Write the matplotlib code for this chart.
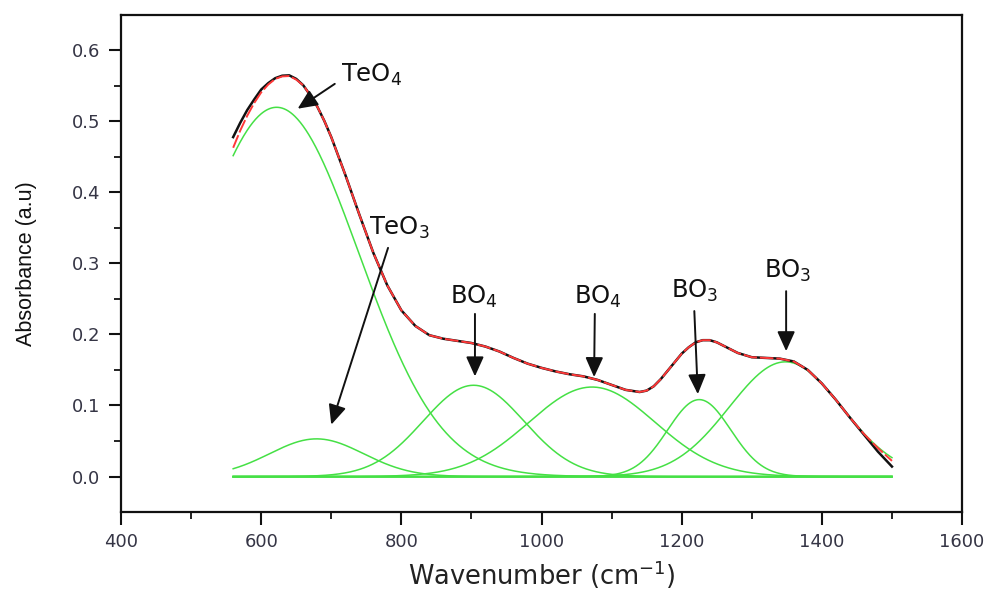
import numpy as np
import matplotlib
matplotlib.use("Agg")
import matplotlib.pyplot as plt
from matplotlib import font_manager as fm

# ---------------- data ----------------
wavenumber = [560, 570, 580, 590, 600, 610, 620, 630, 640, 650, 660, 670, 680, 690, 700,
              720, 740, 760, 780, 800, 820, 840, 860, 880, 900, 920, 940, 960, 980,
              1000, 1020, 1040, 1060, 1080, 1100, 1120, 1140,
              1150, 1160, 1170, 1180, 1190, 1200, 1210, 1220, 1230, 1240, 1250, 1260,
              1280, 1300, 1320, 1340, 1360, 1380, 1400, 1420, 1440, 1460, 1480, 1500]

absorbance_fit = [0.463, 0.487, 0.508, 0.526, 0.541, 0.552, 0.560, 0.5635, 0.564, 0.559,
                  0.551, 0.537, 0.521, 0.501, 0.478,
                  0.425, 0.369, 0.315, 0.269, 0.234, 0.212, 0.199, 0.194, 0.191, 0.188,
                  0.183, 0.176, 0.167, 0.159, 0.153, 0.148, 0.144, 0.141, 0.136, 0.129,
                  0.122, 0.119,
                  0.121, 0.127, 0.137, 0.149, 0.161, 0.173, 0.182, 0.189, 0.192, 0.192,
                  0.189, 0.184,
                  0.174, 0.168, 0.167, 0.166, 0.162, 0.150, 0.131, 0.108, 0.083, 0.060,
                  0.040, 0.022]

absorbance_measured = [0.478, 0.498, 0.516, 0.531, 0.545, 0.554, 0.561, 0.5645, 0.565, 0.560,
                       0.551, 0.537, 0.521, 0.501, 0.478,
                       0.425, 0.369, 0.315, 0.269, 0.234, 0.212, 0.199, 0.194, 0.191, 0.188,
                       0.183, 0.176, 0.167, 0.159, 0.153, 0.148, 0.144, 0.141, 0.136, 0.129,
                       0.122, 0.119,
                       0.121, 0.127, 0.137, 0.149, 0.161, 0.173, 0.182, 0.189, 0.192, 0.192,
                       0.189, 0.184,
                       0.174, 0.168, 0.167, 0.166, 0.162, 0.150, 0.131, 0.108, 0.083, 0.059,
                       0.035, 0.014]

# Gaussian components of the deconvolution (centre, height, sigma)
peak_labels = ["TeO$_4$", "TeO$_3$", "BO$_4$", "BO$_4$", "BO$_3$", "BO$_3$"]
peak_centers = [622, 679, 903, 1072, 1225, 1348]
peak_heights = [0.520, 0.053, 0.1285, 0.126, 0.1083, 0.1615]
peak_sigmas = [117, 67, 72, 90, 45, 80]

x_ticks = [400, 600, 800, 1000, 1200, 1400, 1600]
y_ticks = [0.0, 0.1, 0.2, 0.3, 0.4, 0.5, 0.6]

# ---------------- fonts ----------------
avail = {f.name for f in fm.fontManager.ttflist}
narrow = "Liberation Sans Narrow" if "Liberation Sans Narrow" in avail else "Liberation Sans"
plt.rcParams["font.family"] = ["DejaVu Sans"]
plt.rcParams["mathtext.fontset"] = "dejavusans"

# ---------------- figure ----------------
fig = plt.figure(figsize=(9.92, 5.90), dpi=100)
ax = fig.add_axes([0.122, 0.1322, 0.8478, 0.8424])

green = "#45e045"
x_fine = np.linspace(wavenumber[0], wavenumber[-1], 941)
for c, h, s in zip(peak_centers, peak_heights, peak_sigmas):
    ax.plot(x_fine, h * np.exp(-(x_fine - c) ** 2 / (2 * s ** 2)),
            color=green, lw=1.1, zorder=2)
ax.plot([wavenumber[0], wavenumber[-1]], [0, 0], color=green, lw=1.3, zorder=2)

ax.plot(wavenumber, absorbance_measured, color="#111111", lw=1.8, zorder=3,
        solid_joinstyle="round")
ax.plot(wavenumber, absorbance_fit, color="#ff3838", lw=1.4,
        ls=(0, (7, 1.5)), zorder=4)

# annotations: text centre, arrow tail, arrow tip (layout positions)
text_pos = [(757, 0.565), (797, 0.350), (903, 0.253), (1080, 0.253),
            (1219, 0.261), (1352, 0.289)]
arrow_tail = [(705, 0.553), (781, 0.322), (905, 0.229), (1076, 0.229),
              (1218, 0.233), (1349, 0.261)]
arrow_tip = [(652, 0.518), (700, 0.073), (905, 0.141), (1075, 0.140),
             (1223, 0.116), (1349, 0.1765)]

for lab, tp, ta, ti in zip(peak_labels, text_pos, arrow_tail, arrow_tip):
    ax.text(tp[0], tp[1], lab, ha="center", va="center", fontsize=17.5,
            color="#111111", zorder=6)
    ax.annotate("", xy=ti, xytext=ta,
                arrowprops=dict(arrowstyle="-|>,head_length=0.6,head_width=0.27",
                                color="#111111", lw=1.4, mutation_scale=20,
                                shrinkA=0, shrinkB=0), zorder=5)

ax.set_xlim(400, 1600)
ax.set_ylim(-0.05, 0.65)
ax.set_xticks(x_ticks)
ax.set_xticks(np.arange(500, 1600, 200), minor=True)
ax.set_yticks(y_ticks)
ax.set_yticks(np.arange(0.05, 0.65, 0.1), minor=True)
ax.set_yticklabels([f"{v:.1f}" for v in y_ticks])

for sp in ax.spines.values():
    sp.set_linewidth(1.6)
    sp.set_color("#111111")

ax.tick_params(which="major", direction="out", length=9, width=1.5,
               labelsize=13, labelcolor="#353545", pad=6, color="#111111")
ax.tick_params(which="minor", direction="out", length=5, width=1.3,
               color="#111111")

ax.set_xlabel("Wavenumber (cm$^{-1}$)", fontsize=18.5, color="#222222")
ax.xaxis.set_label_coords(0.5, -0.094)
ax.set_ylabel("Absorbance (a.u)", fontsize=18 if narrow != "Liberation Sans" else 15.5,
              family=narrow, color="#111111")
ax.yaxis.set_label_coords(-0.1, 0.5)

fig.savefig("out.png", dpi=100)
